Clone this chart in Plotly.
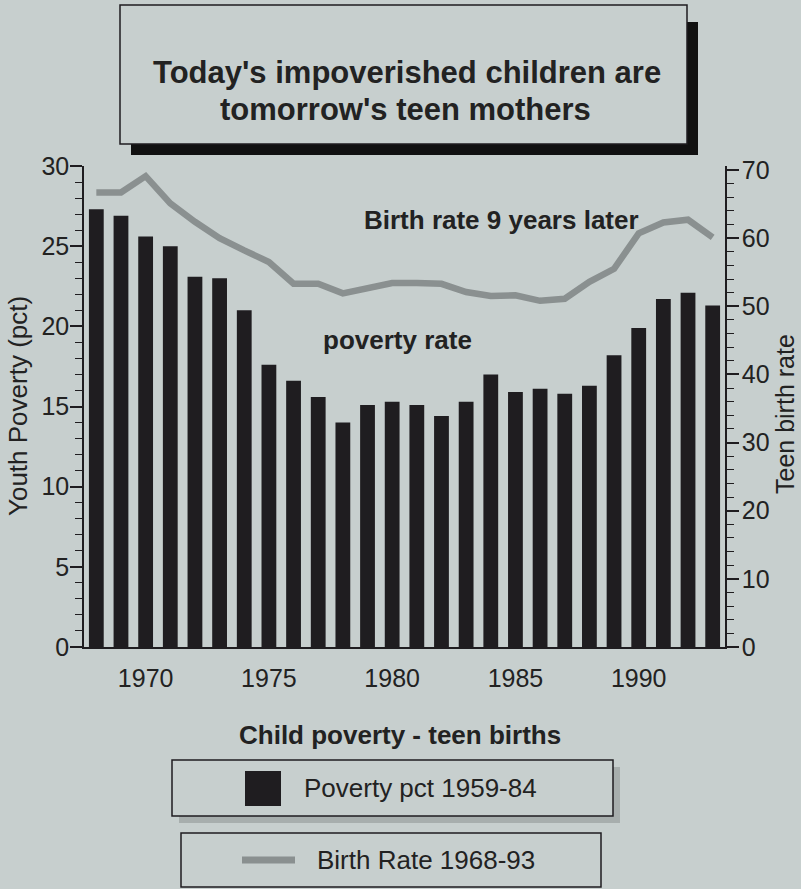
import plotly.graph_objects as go

# ---- data -------------------------------------------------------------
years = list(range(1968, 1994))

# Youth poverty rate (percent) - bars, left axis
poverty_pct = [27.3, 26.9, 25.6, 25.0, 23.1, 23.0, 21.0, 17.6, 16.6, 15.6,
               14.0, 15.1, 15.3, 15.1, 14.4, 15.3, 17.0, 15.9, 16.1, 15.8,
               16.3, 18.2, 19.9, 21.7, 22.1, 21.3]

# Teen birth rate nine years later - line, right axis
birth_rate = [66.7, 66.7, 69.1, 65.1, 62.4, 60.0, 58.2, 56.5, 53.3, 53.3,
              51.9, 52.6, 53.4, 53.4, 53.3, 52.1, 51.5, 51.6, 50.8, 51.1,
              53.6, 55.5, 60.7, 62.3, 62.7, 60.1]

left_ticks = [0, 5, 10, 15, 20, 25, 30]
right_ticks = [0, 10, 20, 30, 40, 50, 60, 70]
year_ticks = [1970, 1975, 1980, 1985, 1990]

title_lines = ["Today's impoverished children are", "tomorrow's teen mothers"]
legend_title = "Child poverty - teen births"
bar_name = "Poverty pct 1959-84"
line_name = "Birth Rate 1968-93"

# ---- styling ----------------------------------------------------------
BG = "#c7cfce"
INK = "#1f1d20"
LINE_GRAY = "#8a9090"
FONT = "Liberation Sans, Arial, Helvetica, sans-serif"

W, H = 801, 889
L, R, T, B = 84, 725, 166, 647


def px(x):
    return (x - L) / (R - L)


def py(y):
    return (B - y) / (B - T)


fig = go.Figure()

fig.add_trace(go.Bar(
    x=years, y=poverty_pct, name=bar_name,
    marker=dict(color=INK, line=dict(width=0)),
    width=0.6, yaxis="y", showlegend=False,
))

fig.add_trace(go.Scatter(
    x=years, y=birth_rate, name=line_name, mode="lines",
    line=dict(color=LINE_GRAY, width=6.5),
    yaxis="y2", showlegend=False,
))

axis_common = dict(
    showline=True, linecolor=INK, linewidth=1.5,
    ticks="outside", ticklen=12, tickwidth=1.5, tickcolor=INK,
    showgrid=False, zeroline=False,
    tickfont=dict(family=FONT, size=25, color="#222"),
)

fig.update_layout(
    width=W, height=H,
    margin=dict(l=L, r=W - R, t=T, b=H - B),
    paper_bgcolor=BG, plot_bgcolor=BG,
    font=dict(family=FONT, color="#222"),
    bargap=0.4,
    xaxis=dict(
        range=[1967.5, 1993.5], tickvals=year_ticks,
        showline=True, linecolor=INK, linewidth=1.5,
        ticks="", showgrid=False, zeroline=False,
        ticklabelstandoff=8,
        tickfont=dict(family=FONT, size=25, color="#222"),
    ),
    yaxis=dict(
        range=[0, 30], tickvals=left_ticks,
        minor=dict(dtick=1, ticks="outside", ticklen=7, tickwidth=1.2,
                   tickcolor=INK),
        ticklabelstandoff=-4,
        **axis_common,
    ),
    yaxis2=dict(
        range=[0, 70 * (B - T) / (B - 170)], tickvals=right_ticks,
        overlaying="y", side="right",
        minor=dict(dtick=2, ticks="outside", ticklen=7, tickwidth=1.2,
                   tickcolor=INK),
        ticklabelstandoff=-2,
        **axis_common,
    ),
)

shapes = []
# title box with drop shadow
shapes.append(dict(type="rect", xref="paper", yref="paper",
                   x0=px(131), x1=px(698), y0=py(155), y1=py(22),
                   fillcolor="#111", line=dict(width=0), layer="below"))
shapes.append(dict(type="rect", xref="paper", yref="paper",
                   x0=px(120), x1=px(687), y0=py(144), y1=py(5),
                   fillcolor=BG, line=dict(color=INK, width=1.5)))
# legend boxes
shapes.append(dict(type="rect", xref="paper", yref="paper",
                   x0=px(179), x1=px(620), y0=py(823), y1=py(767),
                   fillcolor="rgba(120,126,126,0.4)", line=dict(width=0)))
shapes.append(dict(type="rect", xref="paper", yref="paper",
                   x0=px(172), x1=px(613), y0=py(816), y1=py(760),
                   fillcolor=BG, line=dict(color=INK, width=1.5)))
shapes.append(dict(type="rect", xref="paper", yref="paper",
                   x0=px(181), x1=px(601), y0=py(887), y1=py(833),
                   fillcolor=BG, line=dict(color=INK, width=1.5)))
# legend swatches
shapes.append(dict(type="rect", xref="paper", yref="paper",
                   x0=px(245), x1=px(281), y0=py(806), y1=py(771),
                   fillcolor=INK, line=dict(width=0)))
shapes.append(dict(type="line", xref="paper", yref="paper",
                   x0=px(242), x1=px(295), y0=py(860), y1=py(860),
                   line=dict(color=LINE_GRAY, width=7)))
fig.update_layout(shapes=shapes)


def label(text, x, y, size, bold=False, angle=0, xanchor="center"):
    t = f"<b>{text}</b>" if bold else text
    return dict(text=t, xref="paper", yref="paper", x=px(x), y=py(y),
                xanchor=xanchor, yanchor="middle", showarrow=False,
                textangle=angle, font=dict(family=FONT, size=size, color="#222"))


annotations = [
    label(title_lines[0], 407, 72, 31, bold=True),
    label(title_lines[1], 405, 109, 31, bold=True),
    label("Birth rate 9 years later", 502, 220, 26, bold=True),
    label("poverty rate", 397, 340, 26, bold=True),
    label("Youth Poverty (pct)", 18, 406, 26, angle=-90),
    label("Teen birth rate", 785, 414, 25, angle=-90),
    label(legend_title, 400, 735, 26, bold=True),
    label(bar_name, 302, 788, 26, xanchor="left"),
    label(line_name, 315, 860, 26, xanchor="left"),
]
fig.update_layout(annotations=annotations)

fig.write_html("out.html")
